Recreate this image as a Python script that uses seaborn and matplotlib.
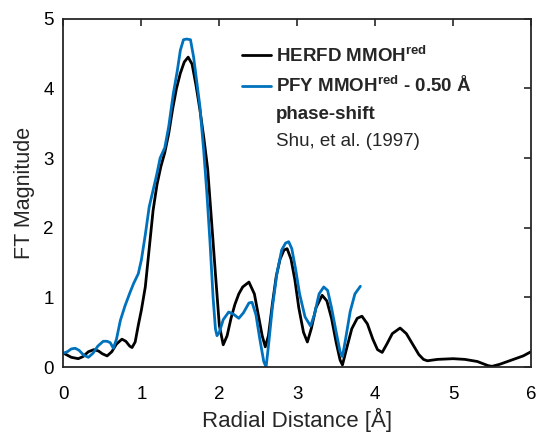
import matplotlib
matplotlib.use("Agg")
import matplotlib.pyplot as plt
import pandas as pd
import seaborn as sns
from matplotlib.lines import Line2D

# --- data ---
herfd_r = [0.00, 0.05, 0.10, 0.19, 0.25, 0.32, 0.39, 0.45, 0.50, 0.56, 0.62, 0.68, 0.75, 0.80,
           0.85, 0.88, 0.92, 0.96, 1.00, 1.05, 1.10, 1.15, 1.20, 1.25, 1.30, 1.35, 1.40, 1.45,
           1.50, 1.55, 1.60, 1.65, 1.70, 1.75, 1.80, 1.85, 1.90, 1.95, 2.00, 2.05, 2.10, 2.15,
           2.20, 2.25, 2.30, 2.38, 2.45, 2.50, 2.55, 2.59, 2.63, 2.68, 2.73, 2.78, 2.83, 2.87,
           2.92, 2.97, 3.02, 3.08, 3.13, 3.18, 3.24, 3.32, 3.38, 3.44, 3.50, 3.55, 3.58, 3.63,
           3.70, 3.77, 3.83, 3.90, 3.97, 4.03, 4.09, 4.15, 4.22, 4.32, 4.40, 4.48, 4.56, 4.62,
           4.67, 4.80, 5.00, 5.15, 5.31, 5.45, 5.50, 5.60, 5.75, 5.90, 6.00]
herfd_ft = [0.20, 0.17, 0.14, 0.12, 0.15, 0.22, 0.25, 0.23, 0.19, 0.16, 0.22, 0.33, 0.40, 0.37,
            0.30, 0.28, 0.36, 0.60, 0.82, 1.15, 1.70, 2.25, 2.62, 2.88, 3.08, 3.35, 3.70, 4.00,
            4.22, 4.38, 4.45, 4.35, 4.05, 3.70, 3.30, 2.85, 2.10, 1.34, 0.60, 0.32, 0.45, 0.70,
            0.90, 1.05, 1.15, 1.22, 1.05, 0.75, 0.45, 0.29, 0.45, 0.90, 1.30, 1.55, 1.68, 1.70,
            1.55, 1.25, 0.85, 0.50, 0.36, 0.55, 0.85, 1.03, 0.95, 0.70, 0.35, 0.10, 0.03, 0.25,
            0.55, 0.70, 0.73, 0.62, 0.40, 0.25, 0.21, 0.33, 0.48, 0.56, 0.48, 0.33, 0.18, 0.11,
            0.09, 0.11, 0.12, 0.11, 0.08, 0.02, 0.01, 0.04, 0.10, 0.16, 0.22]

pfy_r = [0.00, 0.05, 0.10, 0.15, 0.20, 0.26, 0.32, 0.38, 0.44, 0.51, 0.56, 0.60, 0.64, 0.68,
         0.73, 0.79, 0.85, 0.90, 0.96, 1.00, 1.05, 1.10, 1.15, 1.20, 1.24, 1.30, 1.35, 1.41,
         1.46, 1.50, 1.54, 1.58, 1.63, 1.67, 1.71, 1.75, 1.80, 1.84, 1.88, 1.92, 1.95, 1.97,
         2.00, 2.05, 2.12, 2.18, 2.25, 2.31, 2.38, 2.42, 2.47, 2.52, 2.57, 2.60, 2.63, 2.68,
         2.74, 2.80, 2.85, 2.89, 2.93, 2.98, 3.03, 3.10, 3.17, 3.22, 3.28, 3.34, 3.39, 3.44,
         3.50, 3.55, 3.58, 3.62, 3.68, 3.74, 3.81]
pfy_ft = [0.20, 0.22, 0.26, 0.27, 0.24, 0.17, 0.14, 0.20, 0.30, 0.37, 0.37, 0.35, 0.27, 0.40,
          0.67, 0.88, 1.06, 1.20, 1.34, 1.54, 1.90, 2.30, 2.54, 2.78, 3.00, 3.15, 3.45, 3.93,
          4.25, 4.55, 4.70, 4.71, 4.70, 4.45, 4.10, 3.75, 3.10, 2.50, 1.80, 1.00, 0.55, 0.45,
          0.50, 0.68, 0.79, 0.76, 0.70, 0.78, 0.92, 0.93, 0.75, 0.40, 0.08, 0.00, 0.30, 0.85,
          1.35, 1.68, 1.78, 1.80, 1.70, 1.40, 1.05, 0.72, 0.59, 0.75, 1.05, 1.15, 1.10, 0.85,
          0.50, 0.22, 0.15, 0.40, 0.80, 1.05, 1.16]

x_ticks = [0, 1, 2, 3, 4, 5, 6]
y_ticks = [0, 1, 2, 3, 4, 5]

herfd = pd.DataFrame({"r": herfd_r, "ft": herfd_ft})
pfy = pd.DataFrame({"r": pfy_r, "ft": pfy_ft})

sns.set_style("white")
plt.rcParams["font.family"] = ["Liberation Sans", "DejaVu Sans"]
plt.rcParams["mathtext.fontset"] = "custom"
plt.rcParams["mathtext.rm"] = "Liberation Sans"
plt.rcParams["mathtext.bf"] = "Liberation Sans:bold"

fig = plt.figure(figsize=(5.38, 4.38), dpi=100)
ax = fig.add_axes([0.118, 0.162, 0.869, 0.795])

sns.lineplot(data=herfd, x="r", y="ft", sort=False, estimator=None, color="black", lw=2, ax=ax)
sns.lineplot(data=pfy, x="r", y="ft", sort=False, estimator=None, color="#0072BD", lw=2, ax=ax)

ax.set_xlim(0, 6)
ax.set_ylim(0, 5)
ax.set_xticks(x_ticks)
ax.set_yticks(y_ticks)
ax.tick_params(direction="in", length=5, width=1.2, labelsize=13.5, top=True, right=True,
               color="#262626", labelcolor="black")
ax.tick_params(axis="x", pad=14)
ax.tick_params(axis="y", pad=7)
for s in ax.spines.values():
    s.set_visible(True)
    s.set_linewidth(1.3)
    s.set_color("#262626")
ax.set_xlabel("Radial Distance [Å]", fontsize=16, labelpad=3)
ax.set_ylabel("FT Magnitude", fontsize=15.5, labelpad=6)

# legend: two curves plus two text-only rows
handles = [Line2D([], [], color="black", lw=2),
           Line2D([], [], color="#0072BD", lw=2),
           Line2D([], [], color="none"),
           Line2D([], [], color="none")]
labels = [r"HERFD MMOH$^{\mathbf{red}}$",
          "PFY MMOH$^{\\mathbf{red}}$ - 0.50 Å",
          "phase-shift",
          "Shu, et al. (1997)"]
leg = ax.legend(handles, labels, loc="upper left", bbox_to_anchor=(0.365, 0.947), frameon=False,
                fontsize=13.5, handlelength=1.55, handletextpad=0.3, labelspacing=0.52,
                borderaxespad=0)
for t in leg.get_texts()[:3]:
    t.set_fontweight("bold")

fig.savefig("out.png", dpi=100)
